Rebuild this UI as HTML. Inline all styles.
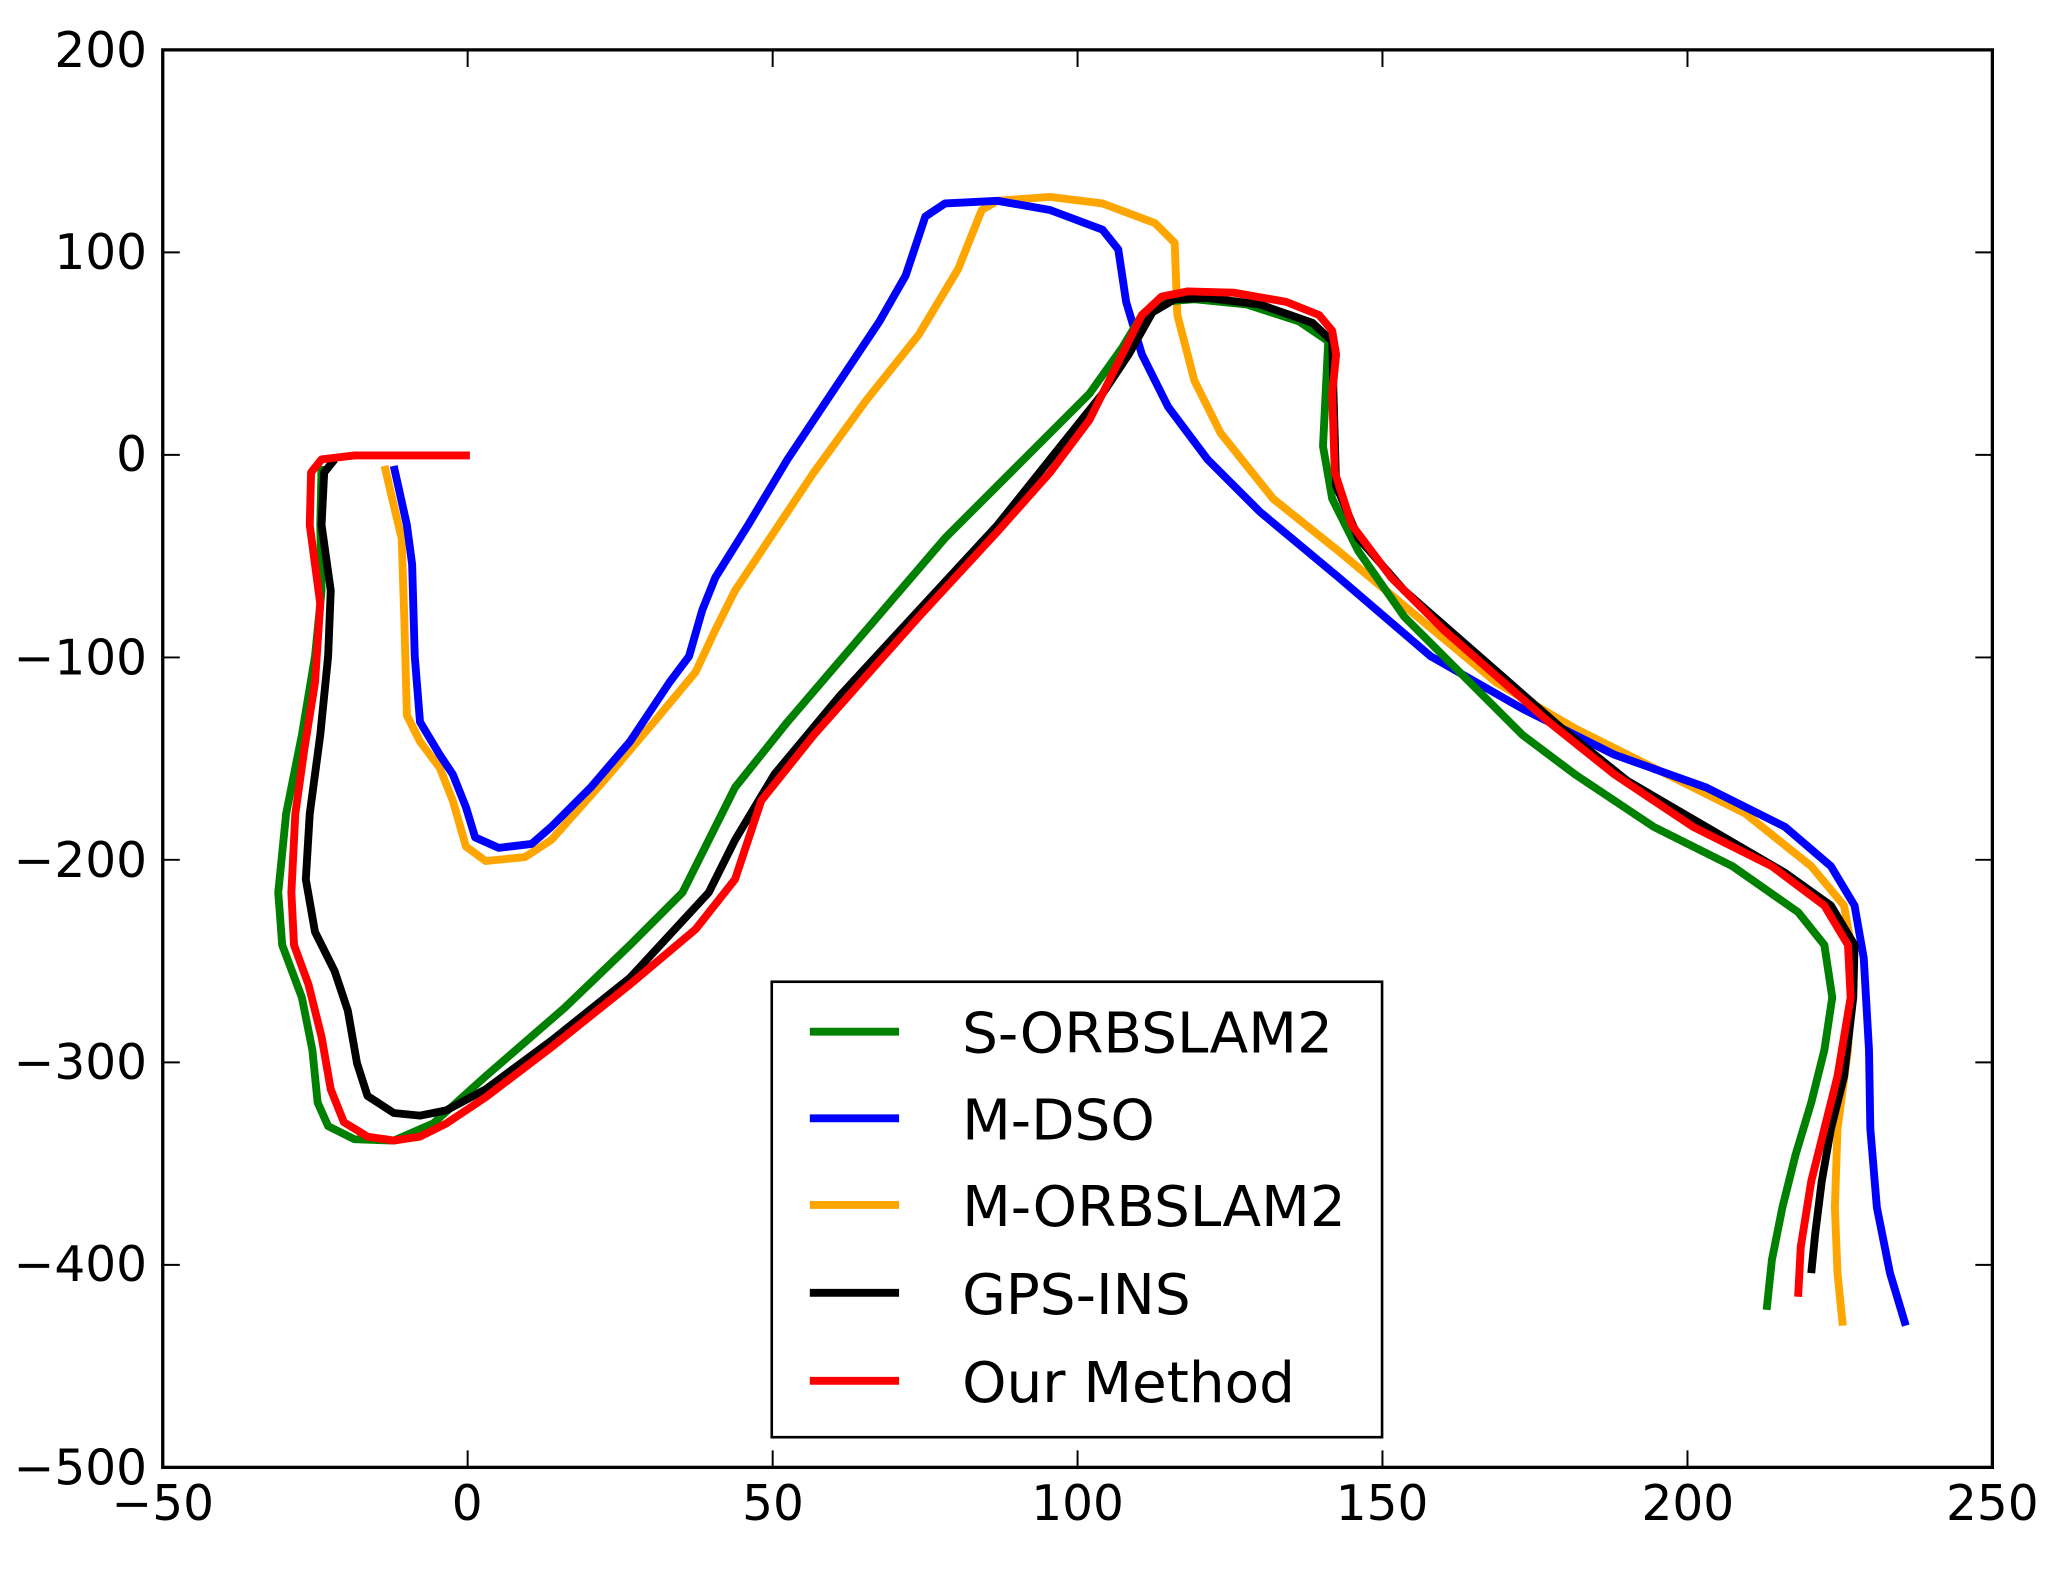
<!DOCTYPE html>
<html><head><style>html,body{margin:0;padding:0;background:#fff}svg{display:block}</style></head>
<body>
<svg width="2058" height="1587" viewBox="0 0 2058 1587" xmlns="http://www.w3.org/2000/svg">
<g transform="scale(1.3125)" font-family="DejaVu Sans, Liberation Sans, sans-serif" fill="#000">
<rect width="1568" height="1210" fill="#fff"/>
<g fill="none" stroke-width="6" stroke-linejoin="round" stroke-linecap="butt">
<polyline stroke="#ffa500" points="293,355 300,385 306,410 308,470 310,545 320,565 335,585 345,610 355,645 370,656 400,653 420,640 460,595 500,548 530,512 545,480 560,450 580,420 620,360 660,305 700,255 730,205 748,160 760,153 800,150 840,155 880,170 895,185 897,240 910,290 930,330 970,380 1020,420 1080,470 1140,520 1200,555 1270,590 1330,620 1380,660 1405,690 1412,730 1408,800 1400,860 1398,920 1400,970 1404,1010"/>
<polyline stroke="#0000ff" points="300,355 310,400 314,430 316,500 320,550 335,575 345,590 355,615 362,638 380,646 405,643 420,630 450,600 480,565 510,520 525,500 535,465 545,440 570,400 600,350 640,290 670,245 690,210 705,165 720,155 760,153 800,160 840,175 852,190 858,230 870,270 890,310 920,350 960,390 1020,440 1090,500 1160,540 1230,575 1300,600 1360,630 1395,660 1413,690 1420,730 1424,800 1425,860 1430,920 1440,970 1452,1010"/>
<polyline stroke="#008000" points="245,355 244,400 245,450 240,500 230,560 218,620 212,680 215,720 230,760 238,800 242,840 250,858 270,868 300,869 330,856 370,820 430,768 480,720 520,680 540,640 560,600 600,550 660,480 720,410 780,350 830,300 855,265 870,240 885,230 910,228 950,232 990,245 1012,260 1010,300 1008,340 1015,380 1035,420 1070,470 1110,510 1160,560 1200,590 1260,630 1320,660 1370,695 1390,720 1396,760 1390,800 1380,840 1368,880 1358,920 1350,960 1346,998"/>
<polyline stroke="#000000" points="255,350 247,360 245,400 252,450 250,500 244,560 236,620 233,670 240,710 255,740 265,770 272,810 280,835 300,848 320,850 340,846 370,830 420,793 480,745 540,680 560,640 590,590 640,530 700,465 760,400 800,350 840,300 860,270 878,238 895,228 920,227 960,232 1000,246 1015,260 1016,300 1018,370 1035,410 1070,450 1110,485 1150,520 1190,555 1240,595 1300,630 1360,665 1395,690 1413,720 1412,760 1405,820 1395,860 1388,900 1383,940 1380,970"/>
<polyline stroke="#ff0000" points="358,347 270,347 245,350 237,360 236,400 240,430 244,460 240,520 232,570 225,620 222,680 224,720 235,750 245,790 252,830 262,855 280,866 300,869 320,866 340,856 370,836 420,798 480,750 530,708 560,670 580,610 620,560 700,470 760,405 800,360 830,320 850,280 870,240 885,226 905,222 940,223 980,230 1005,240 1015,252 1018,270 1015,300 1017,360 1030,400 1060,440 1100,480 1140,515 1180,550 1230,590 1290,630 1350,660 1390,690 1408,720 1410,760 1400,820 1390,860 1380,900 1372,950 1370,988"/>
</g>
<rect x="124" y="38" width="1394" height="1080" fill="none" stroke="#000" stroke-width="2.5"/>
<g stroke="#000" stroke-width="1.5">
<path d="M124,192.3h13M124,346.6h13M124,500.9h13M124,655.1h13M124,809.4h13M124,963.7h13M1518,192.3h-13M1518,346.6h-13M1518,500.9h-13M1518,655.1h-13M1518,809.4h-13M1518,963.7h-13"/>
<path d="M356.3,1118v-13M588.7,1118v-13M821,1118v-13M1053.3,1118v-13M1285.7,1118v-13M356.3,38v13M588.7,38v13M821,38v13M1053.3,38v13M1285.7,38v13"/>
</g>
<g font-size="37" text-anchor="end">
<text x="112" y="51">200</text><text x="112" y="205">100</text><text x="112" y="359">0</text>
<text x="112" y="514">−100</text><text x="112" y="668">−200</text><text x="112" y="822">−300</text>
<text x="112" y="976">−400</text><text x="112" y="1131">−500</text>
</g>
<g font-size="37" text-anchor="middle">
<text x="124" y="1158">−50</text><text x="356" y="1158">0</text><text x="589" y="1158">50</text>
<text x="821" y="1158">100</text><text x="1053" y="1158">150</text><text x="1286" y="1158">200</text><text x="1518" y="1158">250</text>
</g>
<rect x="588" y="748" width="465" height="347" fill="#fff" stroke="#000" stroke-width="2"/>
<g stroke-width="6">
<line x1="617" y1="786" x2="685" y2="786" stroke="#008000"/>
<line x1="617" y1="852" x2="685" y2="852" stroke="#0000ff"/>
<line x1="617" y1="918" x2="685" y2="918" stroke="#ffa500"/>
<line x1="617" y1="985" x2="685" y2="985" stroke="#000"/>
<line x1="617" y1="1052" x2="685" y2="1052" stroke="#ff0000"/>
</g>
<g font-size="43">
<text x="733" y="802">S-ORBSLAM2</text>
<text x="733" y="868">M-DSO</text>
<text x="733" y="934">M-ORBSLAM2</text>
<text x="733" y="1001">GPS-INS</text>
<text x="733" y="1068">Our Method</text>
</g>
</g>
</svg>
</body></html>
